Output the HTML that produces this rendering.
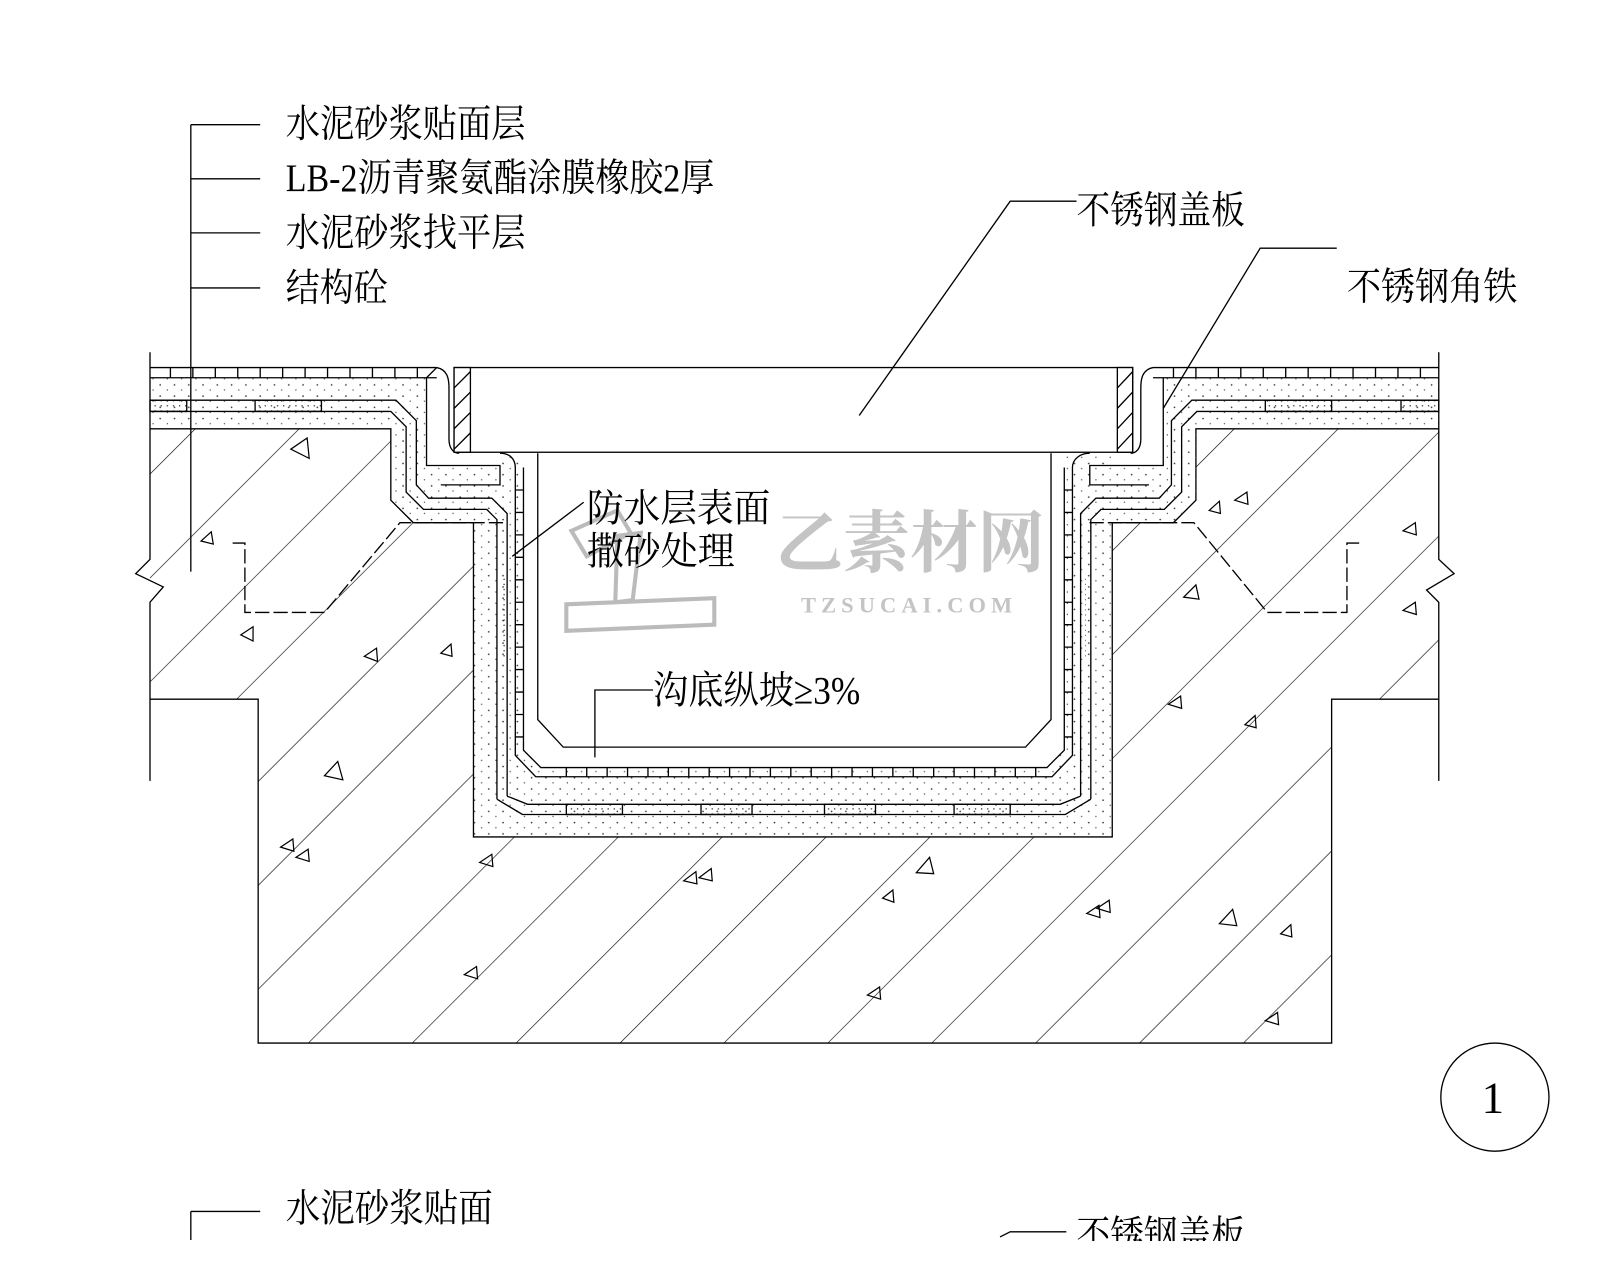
<!DOCTYPE html>
<html><head><meta charset="utf-8"><style>
html,body{margin:0;padding:0;background:#fff;width:1600px;height:1280px;overflow:hidden}
svg{display:block}
text{font-family:"Liberation Serif","Noto Serif CJK SC",serif;fill:#000}
</style></head><body>
<svg width="1600" height="1280" viewBox="0 0 1568 1254" xmlns="http://www.w3.org/2000/svg">
<defs>
<pattern id="hatch" patternUnits="userSpaceOnUse" width="72" height="100" patternTransform="rotate(45)">
<line x1="0" y1="0" x2="0" y2="100" stroke="#000" stroke-width="1.2"/>
</pattern>
<pattern id="dots" patternUnits="userSpaceOnUse" width="14" height="11">
<circle cx="3" cy="3" r="0.8" fill="#333"/><circle cx="10" cy="8" r="0.7" fill="#555"/>
</pattern>
<pattern id="dots2" patternUnits="userSpaceOnUse" width="6" height="5">
<circle cx="2" cy="2.5" r="0.7" fill="#222"/>
</pattern>
</defs>
<g fill="none" stroke="#000" stroke-width="1.3">
<path d="M147,420 L383,420 L383,490 L405,512 L464,512 L464,820 L1090,820 L1090,512 L1150,512 L1172,490 L1172,420 L1410,420 L1410,685 L1305,685 L1305,1022 L253,1022 L253,685 L147,685 Z" fill="url(#hatch)" stroke="none"/>
<path d="M147,420 L383,420 L383,490 L405,512 L464,512 L464,820 L1090,820 L1090,512 L1150,512 L1172,490 L1172,420 L1410,420"/>
<path d="M147,685 L253,685 L253,1022 L1305,1022 L1305,685 L1410,685"/>
<path d="M147,370 L418,370 L418,458 L490,458 L490,444 L1090,444 L1090,458 L1140,458 L1140,370 L1410,370 L1410,420 L1172,420 L1172,490 L1150,512 L1090,512 L1090,820 L464,820 L464,512 L405,512 L383,490 L383,420 L147,420Z" fill="url(#dots)" stroke="none"/>
<path d="M513,444 L1043,444 L1043,735 L1026,752 L530,752 L513,735Z" fill="#fff" stroke="none"/>
<path d="M147,360 L428,360 M147,370 L428,370 M1130,360 L1410,360 M1130,370 L1410,370"/>
<path d="M167,360V370M189,360V370M211,360V370M233,360V370M255,360V370M277,360V370M299,360V370M321,360V370M343,360V370M365,360V370M387,360V370M409,360V370 M1150,360V370M1172,360V370M1194,360V370M1216,360V370M1238,360V370M1260,360V370M1282,360V370M1304,360V370M1326,360V370M1348,360V370M1370,360V370M1392,360V370"/>
<path d="M147,392 L388,392 L408,412 L408,475 L420,488 L482,488 L497,503 L497,780 M147,403 L383,403 L398,418 L398,482 L415,499 L477,499 L487,509 L487,783"/>
<rect x="147" y="392" width="36" height="11" fill="url(#dots2)"/>
<rect x="250" y="392" width="65" height="11" fill="url(#dots2)"/>
<path d="M1410,392 L1168,392 L1148,412 L1148,475 L1136,488 L1074,488 L1059,503 L1059,780 M1410,403 L1173,403 L1158,418 L1158,482 L1141,499 L1079,499 L1069,509 L1069,783"/>
<rect x="1373" y="392" width="37" height="11" fill="url(#dots2)"/>
<rect x="1240" y="392" width="65" height="11" fill="url(#dots2)"/>
<path d="M487,783 L512,798 L1044,798 L1069,783 M497,780 L517,788 L1039,788 L1059,780"/>
<rect x="555" y="788" width="55" height="10" fill="url(#dots2)"/>
<rect x="687" y="788" width="50" height="10" fill="url(#dots2)"/>
<rect x="808" y="788" width="50" height="10" fill="url(#dots2)"/>
<rect x="935" y="788" width="55" height="10" fill="url(#dots2)"/>
<path d="M428,360 C438,362 440,370 440,380 L440,430 C440,440 445,444 450,444 M418,370 L418,456 L490,456 L490,475 L432,475"/>
<path d="M418,370 L428,360"/>
<path d="M1130,360 C1120,362 1118,370 1118,380 L1118,430 C1118,440 1113,444 1108,444 M1140,370 L1140,456 L1068,456 L1068,475 L1126,475"/>
<path d="M505,458 L505,740 L525,761 L1031,761 L1051,740 L1051,458 M513,458 L513,735 L530,752 L1026,752 L1043,735 L1043,458"/>
<path d="M490,444 C500,444 505,450 505,458 M1068,444 C1058,444 1051,450 1051,458"/>
<path d="M505,480H513M505,502H513M505,524H513M505,546H513M505,568H513M505,590H513M505,612H513M505,634H513M505,656H513M505,678H513M505,700H513M505,722H513 M1043,480H1051M1043,502H1051M1043,524H1051M1043,546H1051M1043,568H1051M1043,590H1051M1043,612H1051M1043,634H1051M1043,656H1051M1043,678H1051M1043,700H1051M1043,722H1051"/>
<path d="M555,752V761M575,752V761M595,752V761M615,752V761M635,752V761M655,752V761M675,752V761M695,752V761M715,752V761M735,752V761M755,752V761M775,752V761M795,752V761M815,752V761M835,752V761M855,752V761M875,752V761M895,752V761M915,752V761M935,752V761M955,752V761M975,752V761M995,752V761M1015,752V761"/>
<rect x="492" y="565" width="5" height="80" fill="url(#dots2)" stroke="none"/>
<rect x="1059" y="565" width="5" height="80" fill="url(#dots2)" stroke="none"/>
<path d="M527,444 L527,705 L552,732 L1005,732 L1030,705 L1030,444"/>
<rect x="445" y="360" width="665" height="83" fill="#fff"/>
<rect x="445" y="360" width="16" height="83" fill="#fff"/>
<rect x="1095" y="360" width="15" height="83" fill="#fff"/>
<path d="M445,380L461,364M445,400L461,384M445,420L461,404M445,440L461,424M1095,380L1110,364M1095,400L1110,384M1095,420L1110,404M1095,440L1110,424"/>
<path d="M228,532 L240,532 L240,600 L318,600 L392,512 L493,512" stroke-dasharray="14,4"/>
<path d="M1332,532 L1320,532 L1320,600 L1242,600 L1170,512 L1065,512" stroke-dasharray="14,4"/>
<path d="M147,345 L147,548 L133,562 L160,575 L147,590 L147,765"/>
<path d="M1410,345 L1410,548 L1425,562 L1398,578 L1410,590 L1410,765"/>
<path d="M187,122 L187,560 M187,122H255M187,175H255M187,228H255M187,282H255"/>
<path d="M1055,197 L990,197 L842,407"/>
<path d="M1310,243 L1235,243 L1140,400"/>
<path d="M572,492 L502,545"/>
<path d="M640,676 L583,676 L583,742"/>
<path d="M187,1187 L187,1215 M187,1187H255"/>
<path d="M980,1212 L990,1207 L1045,1207"/>
<circle cx="1465" cy="1075" r="53"/>
</g>
<g fill="none" stroke="#000" stroke-width="1.2">
<path d="M285,440l16,-11l2,20z M197,530l10,-9l2,12z M236,622l12,-8l0,14z M357,643l12,-8l1,13z M432,640l10,-9l1,12z M318,760l13,-14l5,18z M275,830l12,-8l1,12z M290,840l12,-8l1,12z M470,845l12,-8l1,12z M455,955l12,-8l1,12z M670,863l12,-9l1,12z M685,860l12,-9l1,12z M898,855l13,-15l4,16z M865,880l10,-8l1,12z M850,975l12,-8l1,12z M1065,895l12,-8l1,12z M1075,890l12,-8l1,12z M1195,905l13,-14l4,16z M1255,915l10,-9l1,12z M1240,1000l12,-8l1,12z M1145,690l12,-8l1,12z M1220,710l10,-9l1,12z M1160,585l12,-12l3,14z M1210,490l12,-8l1,12z M1185,500l10,-9l1,12z M1375,520l12,-8l1,12z M1375,598l12,-8l1,12z"/>
</g>
<g fill="none" stroke="#bbb" stroke-width="4">
<path d="M560,520 L605,500 L618,522 L575,545Z M605,525 L628,522 L620,588 L603,590Z M555,592 L700,586 L700,612 L555,618Z"/>
</g>
<text x="760" y="555" font-family="'Noto Sans CJK SC',sans-serif" font-weight="bold" font-size="66" style="fill:#c4c4c4">乙素材网</text>
<text x="785" y="600" font-family="'Liberation Sans',sans-serif" font-weight="bold" font-size="22" letter-spacing="5" style="fill:#c4c4c4">TZSUCAI.COM</text>
<g font-size="38">
<text x="280" y="134" textLength="235" lengthAdjust="spacingAndGlyphs">水泥砂浆贴面层</text>
<text x="280" y="187" textLength="420" lengthAdjust="spacingAndGlyphs">LB-2沥青聚氨酯涂膜橡胶2厚</text>
<text x="280" y="241" textLength="235" lengthAdjust="spacingAndGlyphs">水泥砂浆找平层</text>
<text x="280" y="295" textLength="100" lengthAdjust="spacingAndGlyphs">结构砼</text>
<text x="1055" y="219" textLength="165" lengthAdjust="spacingAndGlyphs">不锈钢盖板</text>
<text x="1320" y="294" textLength="167" lengthAdjust="spacingAndGlyphs">不锈钢角铁</text>
<text x="575" y="511" textLength="180" lengthAdjust="spacingAndGlyphs">防水层表面</text>
<text x="575" y="553" textLength="145" lengthAdjust="spacingAndGlyphs">撒砂处理</text>
<text x="640" y="689" textLength="203" lengthAdjust="spacingAndGlyphs">沟底纵坡≥3%</text>
<text x="280" y="1197" textLength="203" lengthAdjust="spacingAndGlyphs">水泥砂浆贴面</text>
<text x="1055" y="1223" textLength="165" lengthAdjust="spacingAndGlyphs">不锈钢盖板</text>
<text x="1452" y="1090" font-size="44">1</text>
</g>
<rect x="0" y="1216" width="1568" height="40" fill="#fff"/>
</svg>
</body></html>
